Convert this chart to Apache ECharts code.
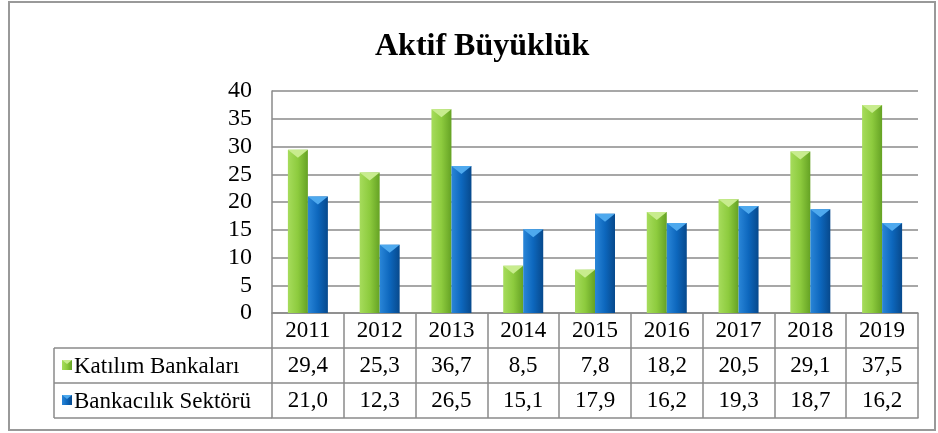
<!DOCTYPE html>
<html>
<head>
<meta charset="utf-8">
<script src="https://cdn.jsdelivr.net/npm/echarts@6/dist/echarts.min.js"></script>
<style>
  html, body { margin: 0; padding: 0; background: #fff; }
  #chart { width: 938px; height: 433px; }
</style>
</head>
<body>
<div id="chart"></div>
<script>
const years = ["2011", "2012", "2013", "2014", "2015", "2016", "2017", "2018", "2019"];
const katilim = [29.4, 25.3, 36.7, 8.5, 7.8, 18.2, 20.5, 29.1, 37.5];
const sektor = [21.0, 12.3, 26.5, 15.1, 17.9, 16.2, 19.3, 18.7, 16.2];
const seriesNames = ["Katılım Bankaları", "Bankacılık Sektörü"];

const FONT = "Liberation Serif";
const LINE = "#8a8a8a";
const ROW = 35;
const TABLE_FS = 23;

const fmt = v => v.toFixed(1).replace(".", ",");

const greenFill = new echarts.graphic.LinearGradient(0, 0, 1, 0, [
  { offset: 0, color: "#a6dc5c" },
  { offset: 0.5, color: "#8dcb3e" },
  { offset: 1, color: "#65a224" }
]);
const blueFill = new echarts.graphic.LinearGradient(0, 0, 1, 0, [
  { offset: 0, color: "#2a86d8" },
  { offset: 0.5, color: "#0d67bd" },
  { offset: 1, color: "#07498c" }
]);
const fills = [greenFill, blueFill];
const capColors = ["#c8ec8e", "#4ea9ee"];

const chart = echarts.init(document.getElementById("chart"));

// table rows are extra category axes pushed down by offset
function tableAxis(offset, values) {
  return {
    type: "category",
    data: years,
    position: "bottom",
    offset: offset,
    axisLine: { show: true, lineStyle: { color: LINE, width: 1.5 } },
    axisTick: { show: !!values, length: ROW, lineStyle: { color: LINE, width: 1.5 } },
    axisLabel: {
      show: !!values,
      margin: 6,
      color: "#000",
      fontFamily: FONT,
      fontSize: TABLE_FS,
      formatter: (v, i) => (values ? values[i] : "")
    },
    splitLine: { show: false }
  };
}

// legend column of the data table
function legendCell(i) {
  const y = 313 + ROW * (i + 1);
  return {
    type: "group",
    children: [
      { type: "rect", shape: { x: 62, y: y + 12, width: 10, height: 10 }, style: { fill: fills[i] } },
      { type: "polygon", shape: { points: [[62, y + 12], [72, y + 12], [67, y + 16]] }, style: { fill: capColors[i] } },
      {
        type: "text",
        x: 74,
        y: y + ROW / 2 + 1,
        style: {
          text: seriesNames[i],
          fontFamily: FONT,
          fontSize: TABLE_FS,
          fill: "#000",
          verticalAlign: "middle"
        }
      }
    ]
  };
}

const barCommon = { type: "bar", barWidth: 20, barGap: "0%", xAxisIndex: 0 };
const capCommon = {
  type: "pictorialBar",
  symbol: "path://M0,0 L20,0 L10,8 Z",
  symbolSize: [20, 8],
  symbolPosition: "end",
  barWidth: 20,
  barGap: "0%",
  xAxisIndex: 0,
  silent: true,
  z: 3
};

chart.setOption({
  animation: false,
  backgroundColor: "#fff",
  title: {
    text: "Aktif Büyüklük",
    left: 370,
    top: 26,
    textStyle: { fontFamily: FONT, fontSize: 32, fontWeight: "bold", color: "#000" }
  },
  grid: { left: 272, right: 20, top: 91, bottom: 120 },
  xAxis: [
    {
      type: "category",
      data: years,
      position: "bottom",
      axisLine: { show: true, lineStyle: { color: LINE, width: 1.5 } },
      axisTick: { show: true, length: ROW, lineStyle: { color: LINE, width: 1.5 } },
      axisLabel: { margin: 6, color: "#000", fontFamily: FONT, fontSize: TABLE_FS }
    },
    tableAxis(ROW, katilim.map(fmt)),
    tableAxis(ROW * 2, sektor.map(fmt)),
    tableAxis(ROW * 3, null)
  ],
  yAxis: {
    type: "value",
    min: 0,
    max: 40,
    interval: 5,
    axisLine: { show: true, lineStyle: { color: LINE, width: 1.5 } },
    axisTick: { show: false },
    axisLabel: { margin: 20, color: "#000", fontFamily: FONT, fontSize: 24 },
    splitLine: { lineStyle: { color: LINE, width: 1.5 } }
  },
  graphic: [
    // outer chart frame
    { type: "rect", shape: { x: 9, y: 2, width: 926, height: 428 }, style: { fill: null, stroke: "#999", lineWidth: 2 }, silent: true },
    // left part of the data table
    { type: "line", shape: { x1: 54, y1: 348, x2: 272, y2: 348 }, style: { stroke: LINE, lineWidth: 1.5 } },
    { type: "line", shape: { x1: 54, y1: 383, x2: 272, y2: 383 }, style: { stroke: LINE, lineWidth: 1.5 } },
    { type: "line", shape: { x1: 54, y1: 418, x2: 272, y2: 418 }, style: { stroke: LINE, lineWidth: 1.5 } },
    { type: "line", shape: { x1: 54, y1: 348, x2: 54, y2: 418 }, style: { stroke: LINE, lineWidth: 1.5 } },
    legendCell(0),
    legendCell(1)
  ],
  series: [
    { ...barCommon, name: seriesNames[0], data: katilim, itemStyle: { color: greenFill } },
    { ...barCommon, name: seriesNames[1], data: sektor, itemStyle: { color: blueFill } },
    { ...capCommon, name: "cap1", data: katilim, itemStyle: { color: capColors[0] } },
    { ...capCommon, name: "cap2", data: sektor, itemStyle: { color: capColors[1] } }
  ]
});
</script>
</body>
</html>
